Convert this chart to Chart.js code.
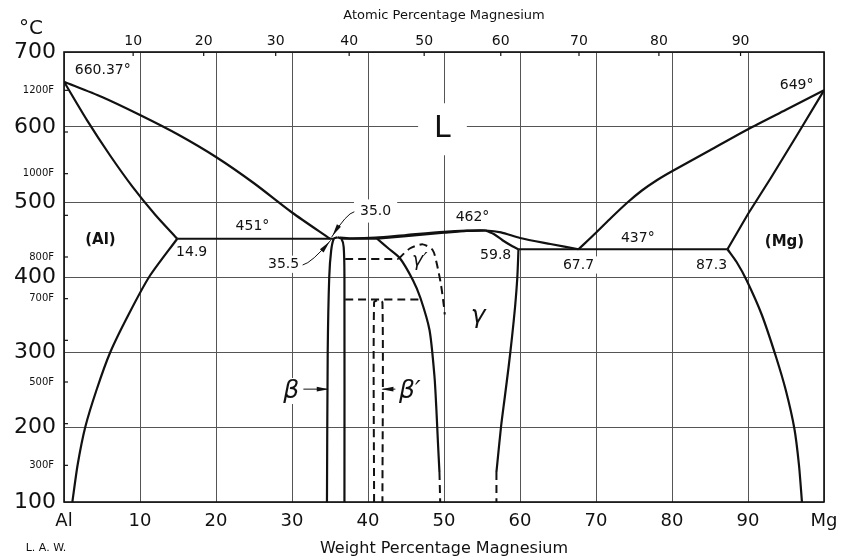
<!DOCTYPE html>
<html>
<head>
<meta charset="utf-8">
<script src="https://cdn.jsdelivr.net/npm/chart.js@4.4.1/dist/chart.umd.min.js"></script>
<style>
  html, body { margin: 0; background: #fff; }
</style>
</head>
<body>
<canvas id="chart" width="842" height="560"></canvas>
<script>
// invariant points (wt% Mg, deg C)
const T_AL = 660.37, T_MG = 649;
const T_E1 = 451, T_E2 = 437, T_GAMMA = 462;
const X_AL_MAX = 14.9, X_E1 = 35.0, X_BETA = 35.5;
const X_GAMMA_MG = 59.8, X_E2 = 67.7, X_MG_MAX = 87.3;

// axis ticks
const atomicTicks = [10, 20, 30, 40, 50, 60, 70, 80, 90];
const fahrenheitTicks = [300, 400, 500, 600, 700, 800, 900, 1000, 1100, 1200];
const fahrenheitLabels = [300, 500, 700, 800, 1000, 1200];
const MASS_AL = 26.98, MASS_MG = 24.305;

// phase boundaries, [wt% Mg, temperature]
const alLiquidus = [[0, T_AL], [5, 640], [10, 616], [15, 590], [20, 560], [25, 525], [30, 486], [X_E1, T_E1]];
const alSolidus = [[0, T_AL], [3, 609.5], [6, 563], [9, 520.5], [12, 483], [X_AL_MAX, T_E1]];
const alSolvus = [[X_AL_MAX, T_E1], [11.2, 400], [8.5, 350], [6.1, 300], [4.3, 250], [2.8, 200], [1.8, 150], [1.1, 100]];
const eutectic1 = [[X_AL_MAX, T_E1], [X_BETA, T_E1]];
const betaLeft = [[34.6, 100], [34.7, 300], [34.9, 400], [35.15, 435], [X_BETA, T_E1], [36.0, 453]];
const betaRight = [[36.0, 453], [36.5, 451], [36.8, 440], [36.9, 400], [36.9, 100]];
const betaGamma = [[36.5, T_E1], [41.2, T_E1]];
const gammaLiquidus = [[36.3, 452.5], [38, 451.5], [41, 452.5], [45, 456], [50, 460.3], [53, 461.8], [55.5, T_GAMMA], [57.5, 459.5], [60, 452], [64, 444], [X_E2, T_E2]];
const gammaSolidusL = [[41.2, T_E1], [45, 454.5], [50, 459], [53, 461.5], [55.5, T_GAMMA]];
const gammaSolidusR = [[55.5, T_GAMMA], [56.6, 457], [57.7, 449], [59.0, 441], [X_GAMMA_MG, T_E2]];
const gammaSolvusL = [[41.2, T_E1], [42.7, 438], [44.2, 425], [45.9, 396], [46.9, 372], [48.1, 329], [48.75, 267], [49.0, 223], [49.2, 180], [49.4, 140]];
const gammaSolvusLLow = [[49.4, 140], [49.5, 100]];
const gammaSolvusR = [[X_GAMMA_MG, T_E2], [59.65, 400], [59.35, 360], [58.95, 320], [58.5, 280], [58.0, 240], [57.5, 200], [57.0, 150], [56.9, 140]];
const gammaSolvusRLow = [[56.9, 140], [56.9, 100]];
const eutectic2 = [[X_GAMMA_MG, T_E2], [X_MG_MAX, T_E2]];
const mgLiquidus = [[X_E2, T_E2], [70, 459], [72, 479], [74.1, 499], [76, 515], [78, 529], [80, 541], [85, 569], [90, 597], [95, 623], [100, T_MG]];
const mgSolidus = [[X_MG_MAX, T_E2], [90, 484], [93, 532], [96.5, 590], [100, T_MG]];
const mgSolvus = [[X_MG_MAX, T_E2], [88.5, 420], [89.8, 396], [91.8, 350], [93.7, 293], [95, 248], [96.1, 198], [96.7, 150], [97.1, 100]];

// ordered phases (dashed)
const gammaPrimeTie = [[37.0, 424], [44.0, 424]];
const gammaPrime = [[44.0, 424], [45.5, 438], [47.2, 443.5], [48.5, 436], [49.0, 420], [49.6, 390], [50.0, 360], [50.1, 350]];
const betaPrimeTie = [[37.0, 370], [47.1, 370]];
const betaPrime = [[40.8, 100], [40.8, 366], [41.35, 369], [41.9, 366], [41.9, 100]];

// leaders and arrows
const leaderE1 = [[38.2, 487], [37.2, 485], [35.2, 453]];
const leaderBeta = [[31.4, 416], [32.6, 419], [35.1, 449]];
const arrowBeta = [[31.5, 250.5], [34.7, 250.5]];
const arrowBetaPrime = [[43.6, 250.5], [41.9, 250.5]];

const atToWt = a => 100 * a * MASS_MG / (a * MASS_MG + (100 - a) * MASS_AL);
const fToC = f => (f - 32) * 5 / 9;

const NUM = '14px "DejaVu Sans"';
const notes = [
  [T_AL + '°', 5.1, 676, NUM],
  [T_MG + '°', 96.4, 656, NUM],
  ['L', 49.8, 597, '30px "DejaVu Sans"', 16, 14],
  ['(Al)', 4.8, 449, 'bold 15px "DejaVu Sans"'],
  ['(Mg)', 94.8, 447, 'bold 15px "DejaVu Sans"'],
  [T_E1 + '°', 24.8, 468, NUM],
  [X_AL_MAX.toFixed(1), 16.8, 433, NUM],
  [X_E1.toFixed(1), 41.0, 488, NUM, 6, 6],
  [X_BETA.toFixed(1), 28.9, 417, NUM],
  [T_GAMMA + '°', 53.75, 480, NUM],
  [X_GAMMA_MG.toFixed(1), 56.8, 429, NUM],
  [X_E2.toFixed(1), 67.7, 416, NUM],
  [T_E2 + '°', 75.5, 452, NUM],
  [X_MG_MAX.toFixed(1), 85.2, 415, NUM],
  ['γ′', 46.8, 421, 'italic 19px "DejaVu Sans"', 1, 1],
  ['γ', 54.5, 348, 'italic 25px "DejaVu Sans"'],
  ['β', 29.9, 248, 'italic 25px "DejaVu Sans"'],
  ['β′', 45.5, 248, 'italic 25px "DejaVu Sans"']
];

const pts = a => a.map(([x, y]) => ({ x, y }));
const line = (a, extra) => Object.assign({
  data: pts(a), showLine: true, borderColor: '#111', borderWidth: 2.2,
  pointRadius: 0, tension: 0.25, fill: false
}, extra);
const dashed = a => line(a, { borderDash: [8, 5], borderWidth: 2 });
const straight = a => line(a, { tension: 0 });

const px = (chart, x, y) => [chart.scales.x.getPixelForValue(x), chart.scales.y.getPixelForValue(y)];

function arrowHead(ctx, from, tip) {
  const ang = Math.atan2(tip[1] - from[1], tip[0] - from[0]);
  ctx.save();
  ctx.translate(tip[0], tip[1]);
  ctx.rotate(ang);
  ctx.beginPath();
  ctx.moveTo(1, 0);
  ctx.lineTo(-11, -2.4);
  ctx.lineTo(-11, 2.4);
  ctx.closePath();
  ctx.fill();
  ctx.restore();
}

const decor = {
  id: 'decor',
  beforeDatasetsDraw(chart) {
    const ctx = chart.ctx;
    ctx.save();
    ctx.fillStyle = '#fff';
    notes.forEach(([text, x, y, font, padX = 4, padY = 3]) => {
      ctx.font = font;
      const w = ctx.measureText(text).width;
      const h = parseFloat(font.match(/(\d+)px/)[1]) * 0.8;
      const [cx, cy] = px(chart, x, y);
      ctx.fillRect(cx - w / 2 - padX, cy - h / 2 - padY, w + padX * 2, h + padY * 2);
    });
    ctx.restore();
  },
  afterDatasetsDraw(chart) {
    const ctx = chart.ctx;
    const area = chart.chartArea;
    ctx.save();
    ctx.fillStyle = '#111';
    ctx.strokeStyle = '#111';

    // frame
    ctx.lineWidth = 1.6;
    ctx.strokeRect(area.left, area.top, area.right - area.left, area.bottom - area.top);

    // Fahrenheit scale inside the left edge
    ctx.lineWidth = 1.2;
    ctx.font = '10px "DejaVu Sans"';
    ctx.textAlign = 'right';
    ctx.textBaseline = 'middle';
    fahrenheitTicks.forEach(f => {
      const y = chart.scales.y.getPixelForValue(fToC(f));
      ctx.beginPath();
      ctx.moveTo(area.left, y);
      ctx.lineTo(area.left + 4, y);
      ctx.stroke();
      if (fahrenheitLabels.includes(f)) ctx.fillText(f + 'F', area.left - 10, y);
    });

    // atomic percentage marks along the top edge
    atomicTicks.forEach(a => {
      const x = chart.scales.x.getPixelForValue(atToWt(a));
      ctx.beginPath();
      ctx.moveTo(x, area.top);
      ctx.lineTo(x, area.top + 4);
      ctx.stroke();
    });

    // annotations
    ctx.textAlign = 'center';
    notes.forEach(([text, x, y, font]) => {
      ctx.font = font;
      const [cx, cy] = px(chart, x, y);
      ctx.fillText(text, cx, cy);
    });

    // leader lines to the eutectic point
    ctx.lineWidth = 1;
    [leaderE1, leaderBeta].forEach(l => {
      const p = l.map(([x, y]) => px(chart, x, y));
      ctx.beginPath();
      ctx.moveTo(p[0][0], p[0][1]);
      ctx.quadraticCurveTo(p[1][0], p[1][1], p[2][0], p[2][1]);
      ctx.stroke();
      const back = [p[2][0] - (p[2][0] - p[1][0]) * 0.3, p[2][1] - (p[2][1] - p[1][1]) * 0.3];
      arrowHead(ctx, back, [p[2][0] + (p[1][0] - p[2][0]) * 0.1, p[2][1] + (p[1][1] - p[2][1]) * 0.1]);
    });
    [arrowBeta, arrowBetaPrime].forEach(l => {
      const p = l.map(([x, y]) => px(chart, x, y));
      ctx.beginPath();
      ctx.moveTo(p[0][0], p[0][1]);
      ctx.lineTo(p[1][0], p[1][1]);
      ctx.stroke();
      arrowHead(ctx, p[0], p[1]);
    });

    // corner captions
    ctx.font = '20px "DejaVu Sans"';
    ctx.fillText('°C', 31, 29);
    ctx.font = '11px "DejaVu Sans"';
    ctx.fillText('L. A. W.', 46, 548);
    ctx.restore();
  }
};

const gridColor = '#555';

// the end labels may hang past the plot edge
const edgeFit = h => s => { s.height = h; s.paddingLeft = 0; s.paddingRight = 0; };

new Chart(document.getElementById('chart'), {
  type: 'scatter',
  data: {
    datasets: [
      line(alLiquidus), line(alSolidus), line(alSolvus), straight(eutectic1),
      line(betaLeft), line(betaRight), straight(betaGamma),
      line(gammaLiquidus), line(gammaSolidusL), line(gammaSolidusR),
      line(gammaSolvusL), dashed(gammaSolvusLLow), line(gammaSolvusR), dashed(gammaSolvusRLow),
      straight(eutectic2), line(mgLiquidus), straight(mgSolidus), line(mgSolvus),
      dashed(gammaPrimeTie), dashed(gammaPrime), dashed(betaPrimeTie), dashed(betaPrime)
    ]
  },
  options: {
    responsive: false,
    animation: false,
    layout: { padding: { right: 18 } },
    plugins: { legend: { display: false }, tooltip: { enabled: false } },
    scales: {
      x: {
        type: 'linear', position: 'bottom', min: 0, max: 100,
        afterFit: edgeFit(58),
        border: { display: false },
        grid: { color: gridColor, lineWidth: 1, drawTicks: false },
        ticks: {
          stepSize: 10, autoSkip: false, maxRotation: 0, padding: 9,
          color: '#111', font: { size: 18, family: 'DejaVu Sans' },
          callback: v => v === 0 ? 'Al' : v === 100 ? 'Mg' : v
        },
        title: {
          display: true, text: 'Weight Percentage Magnesium', color: '#111',
          font: { size: 16, family: 'DejaVu Sans' }, padding: { top: 0, bottom: 2 }
        }
      },
      x2: {
        type: 'linear', position: 'top', min: 0, max: 100,
        afterFit: edgeFit(52),
        afterBuildTicks: s => { s.ticks = atomicTicks.map(a => ({ value: atToWt(a) })); },
        border: { display: false },
        grid: { display: false },
        ticks: {
          autoSkip: false, maxRotation: 0, padding: -6,
          color: '#111', font: { size: 14, family: 'DejaVu Sans' },
          callback: (v, i) => atomicTicks[i]
        },
        title: {
          display: true, text: 'Atomic Percentage Magnesium', color: '#111',
          font: { size: 13, family: 'DejaVu Sans' }, padding: { top: 8, bottom: 0 }
        }
      },
      y: {
        type: 'linear', min: 100, max: 700,
        afterFit: s => { s.width = 64; },
        border: { display: false },
        grid: { color: gridColor, lineWidth: 1, drawTicks: false },
        ticks: {
          stepSize: 100, padding: 8,
          color: '#111', font: { size: 22, family: 'DejaVu Sans' }
        }
      }
    }
  },
  plugins: [decor]
});
</script>
</body>
</html>
